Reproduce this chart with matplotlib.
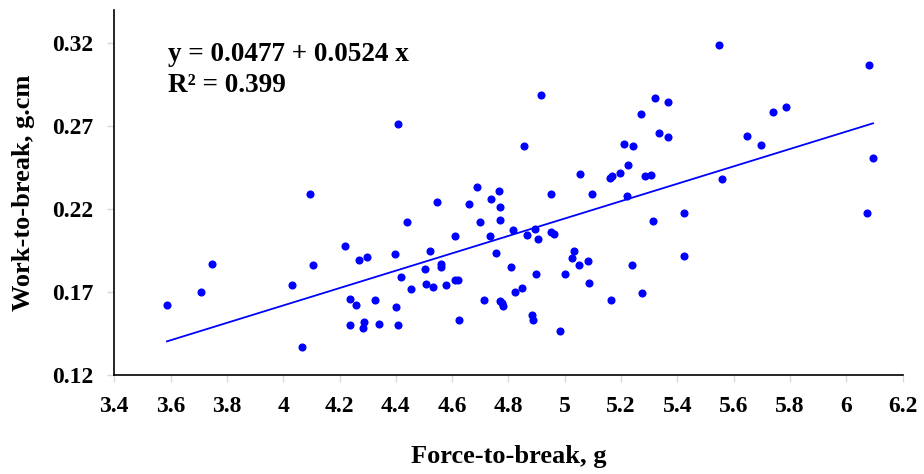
import numpy as np
import matplotlib
matplotlib.use('Agg')
import matplotlib.pyplot as plt

# Data
force = [3.587, 3.708, 3.747, 4.030, 4.065, 4.095, 4.107, 4.220, 4.236, 4.259,
         4.238, 4.269, 4.286, 4.285, 4.296, 4.326, 4.341, 4.397, 4.402, 4.409,
         4.408, 4.418, 4.439, 4.455, 4.503, 4.508, 4.523, 4.533, 4.547, 4.561,
         4.562, 4.579, 4.609, 4.611, 4.622, 4.625, 4.661, 4.688, 4.700, 4.712,
         4.734, 4.737, 4.756, 4.768, 4.771, 4.770, 4.770, 4.778, 4.782, 4.809,
         4.817, 4.823, 4.849, 4.855, 4.866, 4.883, 4.886, 4.894, 4.899, 4.905,
         4.916, 4.950, 4.963, 4.952, 4.983, 5.002, 5.026, 5.033, 5.051, 5.054,
         5.082, 5.086, 5.096, 5.161, 5.167, 5.164, 5.198, 5.211, 5.221, 5.226,
         5.242, 5.240, 5.270, 5.274, 5.285, 5.306, 5.313, 5.321, 5.334, 5.368,
         5.368, 5.425, 5.425, 5.548, 5.558, 5.649, 5.696, 5.741, 5.785, 6.075,
         6.080, 6.095]
work = [0.162, 0.170, 0.187, 0.174, 0.137, 0.229, 0.186, 0.198, 0.166, 0.162,
        0.150, 0.189, 0.152, 0.1485, 0.191, 0.165, 0.151, 0.193, 0.161, 0.150,
        0.271, 0.179, 0.212, 0.172, 0.184, 0.175, 0.195, 0.173, 0.224, 0.187,
        0.185, 0.174, 0.204, 0.177, 0.177, 0.153, 0.223, 0.233, 0.212, 0.165,
        0.204, 0.226, 0.1935, 0.231, 0.221, 0.2136, 0.1646, 0.1632, 0.1617, 0.185,
        0.2075, 0.170, 0.1726, 0.258, 0.2045, 0.156, 0.153, 0.208, 0.181, 0.202,
        0.289, 0.2063, 0.2048, 0.229, 0.1465, 0.181, 0.1907, 0.1947, 0.1864, 0.241,
        0.1885, 0.1754, 0.229, 0.239, 0.240, 0.165, 0.242, 0.259, 0.228, 0.2465,
        0.258, 0.186, 0.277, 0.1696, 0.2397, 0.2407, 0.2128, 0.2867, 0.2658, 0.2845,
        0.2634, 0.2179, 0.1916, 0.3188, 0.2382, 0.264, 0.2584, 0.2786, 0.2814, 0.2174,
        0.3067, 0.251]

intercept = -0.0477
slope = 0.0524
eq_line1 = 'y = 0.0477 + 0.0524 x'
eq_line2 = 'R\u00b2 = 0.399'

xticks = [3.4, 3.6, 3.8, 4.0, 4.2, 4.4, 4.6, 4.8, 5.0, 5.2, 5.4, 5.6, 5.8, 6.0, 6.2]
xticklabels = ['3.4', '3.6', '3.8', '4', '4.2', '4.4', '4.6', '4.8', '5',
               '5.2', '5.4', '5.6', '5.8', '6', '6.2']
yticks = [0.12, 0.17, 0.22, 0.27, 0.32]

plt.rcParams['font.family'] = ['Liberation Serif', 'DejaVu Serif']
plt.rcParams['font.weight'] = 'bold'

fig = plt.figure(figsize=(9.24, 4.74), dpi=100)
ax = fig.add_axes([0.1237, 0.2089, 0.8531, 0.7701])

ax.scatter(force, work, s=34, color='#0000ff', zorder=3, linewidths=0)

# regression line across the data range
xl = np.array([min(force), max(force)])
ax.plot(xl, intercept + slope * xl, color='#0000ff', lw=1.3, zorder=2)

ax.text(0.068, 0.861, eq_line1, transform=ax.transAxes, fontsize=19.5,
        fontweight='bold', va='baseline')
ax.text(0.068, 0.776, eq_line2, transform=ax.transAxes, fontsize=19.5,
        fontweight='bold', va='baseline')

ax.set_xlim(3.4, 6.2)
ax.set_ylim(0.12, 0.34)
ax.set_xticks(xticks)
ax.set_xticklabels(xticklabels)
ax.set_yticks(yticks)
ax.set_yticklabels(['%.2f' % v for v in yticks])

for side in ['top', 'right']:
    ax.spines[side].set_visible(False)
for side in ['left', 'bottom']:
    ax.spines[side].set_linewidth(1.2)
    ax.spines[side].set_color('black')

ax.tick_params(axis='both', direction='out', length=5, width=1, color='#d9d9d9',
               labelsize=17, pad=10)

ax.set_xlabel('Force-to-break, g', fontsize=19, fontweight='bold', labelpad=20)
ax.set_ylabel('Work-to-break, g.cm', fontsize=19, fontweight='bold', labelpad=12)

fig.savefig('out.png', dpi=100)
